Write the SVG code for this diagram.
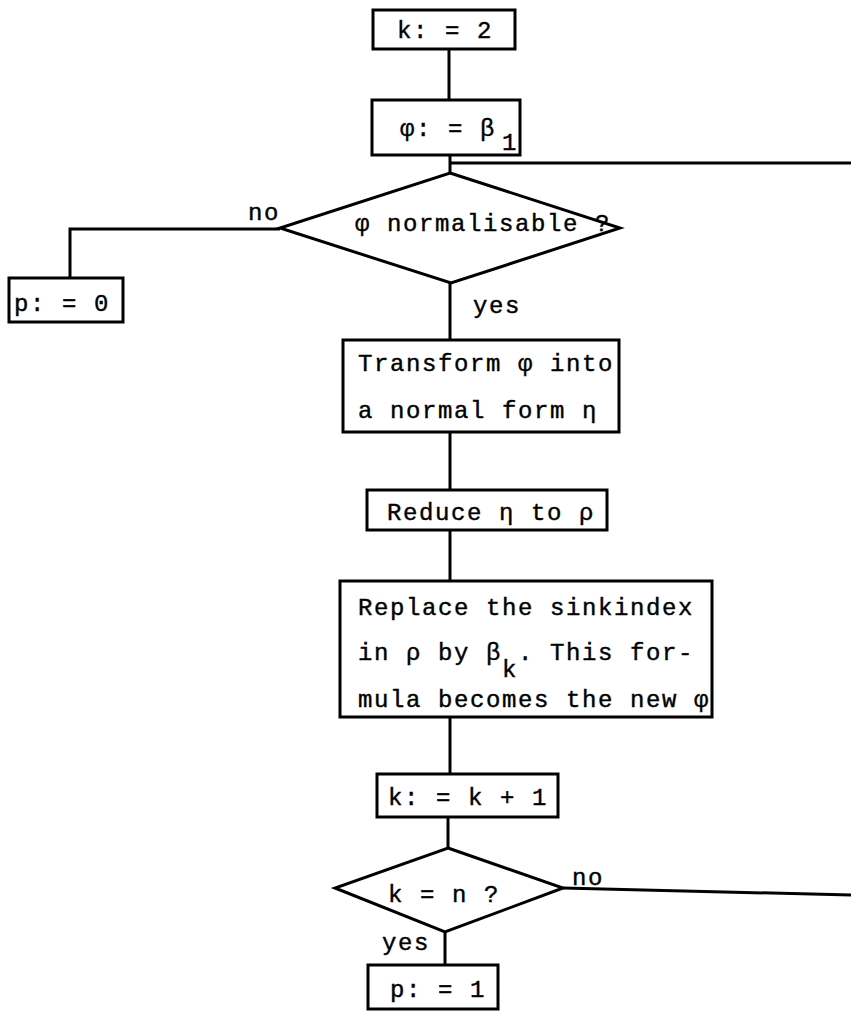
<svg xmlns="http://www.w3.org/2000/svg" width="851" height="1014" viewBox="0 0 851 1014">
<style>
  .box{fill:#fff;stroke:#000;stroke-width:3}
  .ln{fill:none;stroke:#000;stroke-width:3}
  text{font-family:"Liberation Mono","DejaVu Sans Mono",monospace;font-size:24px;letter-spacing:1.6px;fill:#000;stroke:#000;stroke-width:0.4}
</style>
<rect width="851" height="1014" fill="#fff"/>
<g id="connectors">
  <line class="ln" x1="449" y1="49" x2="449" y2="100"/>
  <line class="ln" x1="450" y1="155" x2="450" y2="173"/>
  <line class="ln" x1="450" y1="163" x2="851" y2="163"/>
  <polyline class="ln" points="280,229 70,229 70,278"/>
  <line class="ln" x1="450" y1="283" x2="450" y2="340"/>
  <line class="ln" x1="450" y1="432" x2="450" y2="490"/>
  <line class="ln" x1="450" y1="530" x2="450" y2="581"/>
  <line class="ln" x1="450" y1="717" x2="450" y2="774"/>
  <line class="ln" x1="448" y1="817" x2="448" y2="848"/>
  <line class="ln" x1="563" y1="888" x2="851" y2="895"/>
  <line class="ln" x1="445" y1="932" x2="445" y2="965"/>
  <text x="248" y="220">no</text>
  <text x="473" y="313">yes</text>
  <text x="572" y="885">no</text>
  <text x="382" y="950">yes</text>
</g>
<g id="k2">
  <rect class="box" x="373" y="10" width="142" height="39"/>
  <text x="397" y="38">k: = 2</text>
</g>
<g id="phi-beta1">
  <rect class="box" x="372" y="100" width="148" height="55"/>
  <text x="400" y="136">φ: = β</text>
  <text x="502" y="150">1</text>
</g>
<g id="normalisable">
  <polygon class="box" points="450,173 620,228 451,283 280,228"/>
  <text x="355" y="231">φ normalisable ?</text>
</g>
<g id="p0">
  <rect class="box" x="9" y="278" width="114" height="44"/>
  <text x="14" y="311">p: = 0</text>
</g>
<g id="transform">
  <rect class="box" x="343" y="340" width="276" height="92"/>
  <text x="358" y="371">Transform φ into</text>
  <text x="358" y="418">a normal form η</text>
</g>
<g id="reduce">
  <rect class="box" x="367" y="490" width="240" height="40"/>
  <text x="387" y="520">Reduce η to ρ</text>
</g>
<g id="replace">
  <rect class="box" x="340" y="581" width="372" height="136"/>
  <text x="358" y="615">Replace the sinkindex</text>
  <text x="358" y="660">in ρ by β</text>
  <text x="502" y="677">k</text>
  <text x="518" y="660">. This for-</text>
  <text x="358" y="707">mula becomes the new φ</text>
</g>
<g id="kinc">
  <rect class="box" x="377" y="774" width="181" height="43"/>
  <text x="388" y="805">k: = k + 1</text>
</g>
<g id="keqn">
  <polygon class="box" points="448,848 563,888 445,932 335,888"/>
  <text x="388" y="902">k = n ?</text>
</g>
<g id="p1">
  <rect class="box" x="368" y="965" width="130" height="44"/>
  <text x="390" y="997">p: = 1</text>
</g>
</svg>
